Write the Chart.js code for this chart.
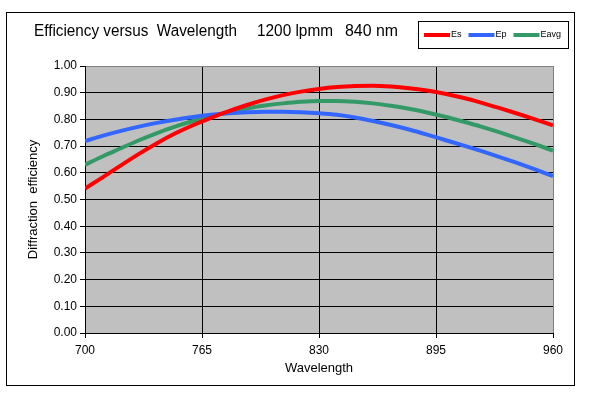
<!DOCTYPE html>
<html>
<head>
<meta charset="utf-8">
<script src="https://cdn.jsdelivr.net/npm/chart.js@4.4.1/dist/chart.umd.min.js"></script>
<style>
  html, body { margin: 0; padding: 0; background: #fff; }
  #wrap { width: 590px; height: 397px; position: relative; }
</style>
</head>
<body>
<div id="wrap"><canvas id="effChart" width="590" height="397"></canvas></div>
<script>
// wavelength samples (nm) and efficiencies
const wavelengths = [700, 710, 720, 730, 740, 750, 760, 770, 780, 790, 800, 810, 820, 830,
                     840, 850, 860, 870, 880, 890, 900, 910, 920, 930, 940, 950, 960];
const esValues = [0.541, 0.584, 0.628, 0.671, 0.711, 0.747, 0.778, 0.806, 0.831, 0.854, 0.874,
                  0.891, 0.904, 0.914, 0.921, 0.925, 0.926, 0.923, 0.917, 0.908, 0.896, 0.881,
                  0.863, 0.843, 0.822, 0.800, 0.778];
const epValues = [0.719, 0.739, 0.757, 0.773, 0.787, 0.799, 0.809, 0.817, 0.823, 0.827, 0.829,
                  0.829, 0.827, 0.823, 0.817, 0.807, 0.794, 0.779, 0.762, 0.743, 0.723, 0.703,
                  0.682, 0.660, 0.637, 0.613, 0.588];
const eavgValues = [0.630, 0.662, 0.692, 0.722, 0.749, 0.773, 0.794, 0.812, 0.827, 0.841, 0.852,
                    0.860, 0.866, 0.869, 0.869, 0.866, 0.860, 0.851, 0.840, 0.826, 0.810, 0.792,
                    0.773, 0.752, 0.730, 0.707, 0.683];

const seriesNames = ["Es", "Ep", "Eavg"];
const titleParts = ["Efficiency versus  Wavelength", "1200 lpmm", "840 nm"];
const xTitle = "Wavelength";
const yTitle = "Diffraction  efficiency";

function toPoints(values) {
  return wavelengths.map((w, i) => ({ x: w, y: values[i] }));
}

// grey plot background + outer frame + title + legend box
const decorPlugin = {
  id: "decor",
  beforeDraw(chart) {
    const { ctx, chartArea: a } = chart;
    ctx.save();
    ctx.fillStyle = "#ffffff";
    ctx.fillRect(0, 0, chart.width, chart.height);
    ctx.fillStyle = "#c0c0c0";
    ctx.fillRect(a.left, a.top, a.right - a.left, a.bottom - a.top);
    ctx.restore();
  },
  afterDraw(chart) {
    const ctx = chart.ctx;
    ctx.save();
    // outer frame
    ctx.strokeStyle = "#000";
    ctx.lineWidth = 1;
    ctx.strokeRect(6.5, 12.5, 568, 373);

    // title
    ctx.fillStyle = "#000";
    ctx.font = "16px 'Liberation Sans', Arial, sans-serif";
    ctx.textBaseline = "middle";
    ctx.textAlign = "left";
    ctx.fillText(titleParts[0], 34, 32, 203);
    ctx.fillText(titleParts[1], 257, 32, 76);
    ctx.fillText(titleParts[2], 345, 32, 53);

    // legend
    ctx.fillStyle = "#fff";
    ctx.fillRect(418, 21, 150, 27);
    ctx.strokeRect(418.5, 21.5, 150, 27);
    ctx.font = "9px 'Liberation Sans', Arial, sans-serif";
    let x = 424;
    chart.data.datasets.forEach(ds => {
      ctx.strokeStyle = ds.borderColor;
      ctx.lineWidth = 4;
      ctx.beginPath();
      ctx.moveTo(x, 35);
      ctx.lineTo(x + 26, 35);
      ctx.stroke();
      ctx.fillStyle = "#000";
      ctx.fillText(ds.label, x + 27, 35);
      x += 27 + ctx.measureText(ds.label).width + 7;
    });
    ctx.restore();
  }
};

const ctx = document.getElementById("effChart").getContext("2d");

new Chart(ctx, {
  type: "line",
  data: {
    datasets: [
      { label: seriesNames[0], data: toPoints(esValues), borderColor: "#ff0000" },
      { label: seriesNames[1], data: toPoints(epValues), borderColor: "#3366ff" },
      { label: seriesNames[2], data: toPoints(eavgValues), borderColor: "#339966" }
    ]
  },
  options: {
    responsive: false,
    animation: false,
    layout: { padding: { left: 0, top: 66, right: 37, bottom: 0 } },
    elements: {
      point: { radius: 0 },
      line: { borderWidth: 4, cubicInterpolationMode: "monotone", fill: false }
    },
    plugins: {
      legend: { display: false },
      title: { display: false },
      tooltip: { enabled: false }
    },
    scales: {
      x: {
        type: "linear",
        min: 700,
        max: 960,
        ticks: {
          stepSize: 65,
          color: "#000",
          padding: 5,
          font: { family: "'Liberation Sans', Arial, sans-serif", size: 12 }
        },
        grid: {
          color: c => (c.tick && c.tick.value === 960 ? "#808080" : "#000"),
          tickColor: "#000",
          tickLength: 5,
          lineWidth: 1
        },
        border: { color: "#000" },
        title: {
          display: true,
          text: xTitle,
          color: "#000",
          padding: { top: 0, bottom: 21 },
          font: { family: "'Liberation Sans', Arial, sans-serif", size: 13 }
        },
        afterFit(scale) { scale.height = 64; }
      },
      y: {
        min: 0,
        max: 1,
        ticks: {
          stepSize: 0.1,
          color: "#000",
          padding: 3,
          font: { family: "'Liberation Sans', Arial, sans-serif", size: 12 },
          callback: v => v.toFixed(2)
        },
        grid: {
          color: c => (c.tick && c.tick.value === 1 ? "#808080" : "#000"),
          tickColor: "#000",
          tickLength: 5,
          lineWidth: 1
        },
        border: { color: "#000" },
        title: {
          display: true,
          text: yTitle,
          color: "#000",
          padding: { top: 26, bottom: 0 },
          font: { family: "'Liberation Sans', Arial, sans-serif", size: 13 }
        },
        afterFit(scale) { scale.width = 85; }
      }
    }
  },
  plugins: [decorPlugin]
});
</script>
</body>
</html>
